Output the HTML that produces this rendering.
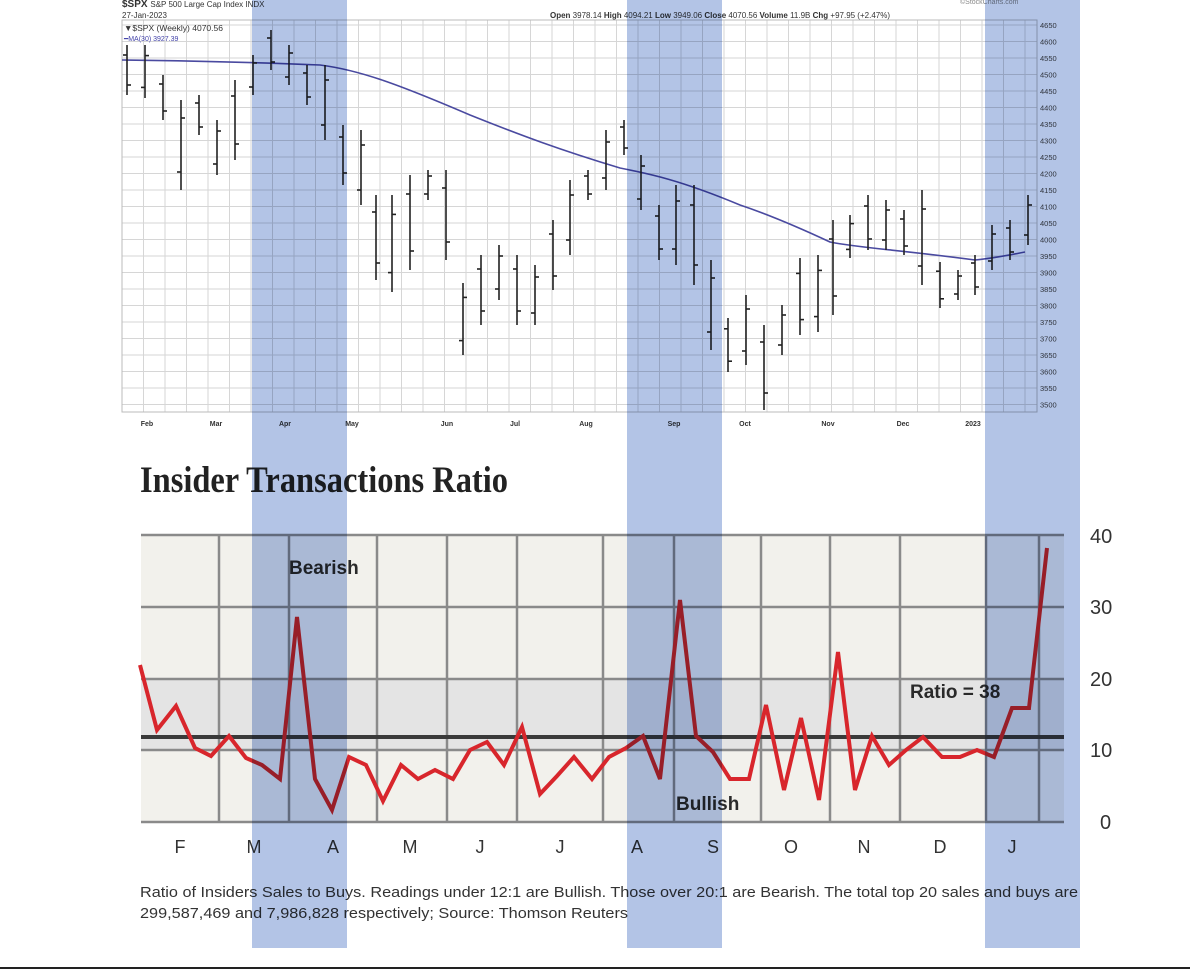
<!DOCTYPE html>
<html><head><meta charset="utf-8"><style>
html,body{margin:0;padding:0;background:#fff;}
body{width:1190px;height:970px;position:relative;overflow:hidden;font-family:"Liberation Sans",sans-serif;}
.band{mix-blend-mode:multiply;}
</style></head><body>
<svg width="1190" height="970" viewBox="0 0 1190 970" xmlns="http://www.w3.org/2000/svg" style="position:absolute;left:0;top:0">
<rect x="0" y="0" width="1190" height="970" fill="#fff"/>
<g stroke="#d6d6d6" stroke-width="1" id="topgrid"></g>
<rect x="122" y="20" width="915" height="392" fill="none" stroke="#bbb"/>
<rect x="141" y="535" width="923" height="287" fill="#f2f1ec"/>
<rect x="141" y="679" width="923" height="71" fill="#e4e4e4"/>
<g stroke="#8a8a8a" stroke-width="2.5">
<line x1="141" y1="535" x2="1064" y2="535"/>
<line x1="141" y1="607" x2="1064" y2="607"/>
<line x1="141" y1="679" x2="1064" y2="679"/>
<line x1="141" y1="750" x2="1064" y2="750"/>
<line x1="141" y1="822" x2="1064" y2="822"/>
<line x1="219" y1="535" x2="219" y2="822"/><line x1="289" y1="535" x2="289" y2="822"/>
<line x1="377" y1="535" x2="377" y2="822"/><line x1="447" y1="535" x2="447" y2="822"/>
<line x1="517" y1="535" x2="517" y2="822"/><line x1="603" y1="535" x2="603" y2="822"/>
<line x1="674" y1="535" x2="674" y2="822"/><line x1="761" y1="535" x2="761" y2="822"/>
<line x1="830" y1="535" x2="830" y2="822"/><line x1="900" y1="535" x2="900" y2="822"/>
<line x1="986" y1="535" x2="986" y2="822"/><line x1="1039" y1="535" x2="1039" y2="822"/>
</g>
<line x1="141" y1="737" x2="1064" y2="737" stroke="#3a3a3a" stroke-width="4"/>
<polyline fill="none" stroke="#d8262c" stroke-width="4" stroke-linejoin="miter" points="140,665 157,730 176,706 195,748 211,756 229,736 246,758 262,765 280,779 297,617 315,779 332,810 349,757 366,765 383,801 401,765 418,779 435,770 453,779 470,750 487,742 504,765 522,727 540,794 557,776 574,757 592,779 609,757 626,748 643,736 660,779 680,600 696,736 713,752 730,779 749,779 766,705 784,790 801,718 819,800 838,652 855,790 872,736 889,765 906,750 923,737 942,757 960,757 977,750 994,757 1012,708 1029,708 1047,548"/>
<g font-family="Liberation Sans,sans-serif" font-size="19" font-weight="bold" fill="#2a2a2a">
<text x="289" y="574">Bearish</text>
<text x="676" y="810">Bullish</text>
<text x="910" y="698">Ratio = 38</text>
</g>
<g font-family="Liberation Sans,sans-serif" font-size="20" fill="#333">
<text x="1090" y="543">40</text><text x="1090" y="614">30</text><text x="1090" y="686">20</text><text x="1090" y="757">10</text><text x="1100" y="829">0</text>
</g>
<g font-family="Liberation Sans,sans-serif" font-size="18" fill="#333" text-anchor="middle">
<text x="180" y="853">F</text><text x="254" y="853">M</text><text x="333" y="853">A</text><text x="410" y="853">M</text><text x="480" y="853">J</text><text x="560" y="853">J</text><text x="637" y="853">A</text><text x="713" y="853">S</text><text x="791" y="853">O</text><text x="864" y="853">N</text><text x="940" y="853">D</text><text x="1012" y="853">J</text>
</g>
<text x="140" y="492" font-family="Liberation Serif,serif" font-size="37" font-weight="bold" fill="#222" textLength="368" lengthAdjust="spacingAndGlyphs">Insider Transactions Ratio</text>
<g font-family="Liberation Sans,sans-serif" font-size="15" fill="#333">
<text x="140" y="897" textLength="938" lengthAdjust="spacingAndGlyphs">Ratio of Insiders Sales to Buys. Readings under 12:1 are Bullish. Those over 20:1 are Bearish. The total top 20 sales and buys are</text>
<text x="140" y="918" textLength="488" lengthAdjust="spacingAndGlyphs">299,587,469 and 7,986,828 respectively; Source: Thomson Reuters</text>
</g>
<g font-family="Liberation Sans,sans-serif" fill="#333">
<text x="122" y="7" font-size="10" font-weight="bold">$SPX <tspan font-weight="normal" font-size="8">S&amp;P 500 Large Cap Index  INDX</tspan></text>
<text x="122" y="18" font-size="8">27-Jan-2023</text>
<text x="550" y="18" font-size="8"><tspan font-weight="bold">Open</tspan> 3978.14 <tspan font-weight="bold">High</tspan> 4094.21 <tspan font-weight="bold">Low</tspan> 3949.06 <tspan font-weight="bold">Close</tspan> 4070.56 <tspan font-weight="bold">Volume</tspan> 11.9B <tspan font-weight="bold">Chg</tspan> +97.95 (+2.47%)</text>
<text x="124" y="31" font-size="8.5">▼$SPX (Weekly) 4070.56</text>
<text x="124" y="41" font-size="7" fill="#44a">━MA(30) 3927.39</text>
<text x="960" y="4" font-size="7" fill="#888">©StockCharts.com</text>
</g>
<g id="ylab" font-family="Liberation Sans,sans-serif" font-size="7.5" fill="#444"></g>
<g font-family="Liberation Sans,sans-serif" font-size="7" fill="#333" font-weight="bold" text-anchor="middle">
<text x="147" y="426">Feb</text><text x="216" y="426">Mar</text><text x="285" y="426">Apr</text><text x="352" y="426">May</text><text x="447" y="426">Jun</text><text x="515" y="426">Jul</text><text x="586" y="426">Aug</text><text x="674" y="426">Sep</text><text x="745" y="426">Oct</text><text x="828" y="426">Nov</text><text x="903" y="426">Dec</text><text x="973" y="426">2023</text>
</g>
<path d="M122,60 C200,61 250,62 320,65 C360,70 400,85 470,115 C520,135 560,150 620,168 C650,174 680,180 740,205 C770,215 800,228 830,242 C860,248 900,250 975,260 C995,258 1010,255 1025,252" fill="none" stroke="#4a4aa0" stroke-width="1.6"/>
<g id="bars" stroke="#222" stroke-width="1.6"></g>
<g fill="#b3c4e6" class="band">
<rect x="252" y="0" width="95" height="948"/>
<rect x="627" y="0" width="95" height="948"/>
<rect x="985" y="0" width="95" height="948"/>
</g>
<line x1="0" y1="968" x2="1190" y2="968" stroke="#222" stroke-width="2"/>
</svg>
<script>
const ns="http://www.w3.org/2000/svg";
function el(p,t,a){const e=document.createElementNS(ns,t);for(const k in a)e.setAttribute(k,a[k]);p.appendChild(e);return e;}
const tg=document.getElementById('topgrid'),yl=document.getElementById('ylab');
for(let v=4650;v>=3500;v-=50){const y=25+(4650-v)/50*16.5;el(tg,'line',{x1:122,x2:1037,y1:y,y2:y});const t=el(yl,'text',{x:1040,y:y+3});t.textContent=v;}
for(let x=122;x<=1037;x+=21.5){el(tg,'line',{x1:x,x2:x,y1:20,y2:412});}
const b=[[127,45,95],[145,45,98],[163,75,120],[181,100,190],[199,95,135],[217,120,175],[235,80,160],[253,55,95],[271,30,70],[289,45,85],[307,65,105],[325,65,140],[343,125,185],[361,130,205],[376,195,280],[392,195,292],[410,175,270],[428,170,200],[446,170,260],[463,283,355],[481,255,325],[499,245,300],[517,255,325],[535,265,325],[553,220,290],[570,180,255],[588,170,200],[606,130,190],[624,120,155],[641,155,210],[659,205,260],[676,185,265],[694,185,285],[711,260,350],[728,318,372],[746,295,365],[764,325,410],[782,305,355],[800,258,335],[818,255,332],[833,220,315],[850,215,258],[868,195,250],[886,200,250],[904,210,255],[922,190,285],[940,262,308],[958,270,300],[975,255,295],[992,225,270],[1010,220,260],[1028,195,245]];
const g=document.getElementById('bars');
b.forEach((d,i)=>{const [x,h,l]=d;el(g,'line',{x1:x,x2:x,y1:h,y2:l});const up=i%2;const o=up?l-(l-h)*0.2:h+(l-h)*0.2,c=up?h+(l-h)*0.2:l-(l-h)*0.2;el(g,'line',{x1:x-4,x2:x,y1:o,y2:o});el(g,'line',{x1:x,x2:x+4,y1:c,y2:c});});
</script>
</body></html>
